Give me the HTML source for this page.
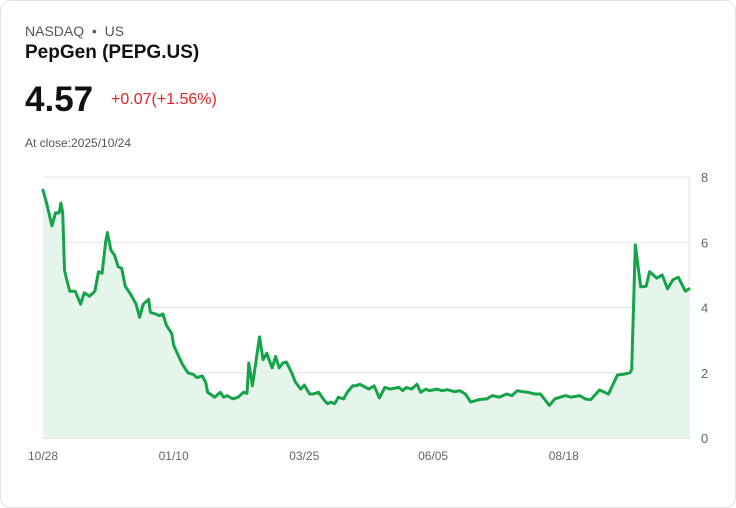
<!DOCTYPE html>
<html><head><meta charset="utf-8"><style>
body{margin:0;background:#fff;font-family:"Liberation Sans",sans-serif;}
.card{position:absolute;left:0;top:0;width:734px;height:506px;border:1px solid #e3e3e3;border-radius:10px;}
.t{position:absolute;white-space:nowrap}
</style></head><body>
<div class="card">
<div class="t" style="left:24px;top:22px;font-size:14px;color:#555">NASDAQ &nbsp;•&nbsp; US</div>
<div class="t" style="left:24px;top:41px;font-size:19px;font-weight:bold;color:#111">PepGen (PEPG.US)</div>
<div class="t" style="left:24px;top:79px;font-size:35px;font-weight:bold;color:#111">4.57</div>
<div class="t" style="left:110px;top:90px;font-size:16px;color:#e02424">+0.07(+1.56%)</div>
<div class="t" style="left:24px;top:135px;font-size:12px;color:#555">At close:2025/10/24</div>
<svg id="chart" width="736" height="508" style="position:absolute;left:-1px;top:-1px"></svg>
</div>
<script>
const days=[0,2,5,7,9,10,11,12,13,15,18,21,23,26,29,31,33,35,36,38,40,42,44,46,49,52,54,56,59,60,63,65,67,69,72,73,75,78,81,84,86,89,91,92,96,99,101,103,106,109,112,114,115,117,121,123,125,128,130,132,134,136,139,141,144,146,149,151,154,157,159,161,163,165,168,170,173,175,177,182,185,188,191,194,196,199,201,203,206,209,211,214,216,220,223,226,230,233,236,239,244,248,251,255,259,262,265,268,271,275,278,283,286,289,292,295,300,303,306,311,316,321,324,328,329,331,334,337,339,343,346,349,352,355,359,361];
const prices=[7.6,7.2,6.5,6.9,6.9,7.2,6.9,5.15,4.9,4.5,4.5,4.1,4.45,4.35,4.5,5.1,5.05,6.0,6.3,5.75,5.6,5.25,5.2,4.65,4.4,4.1,3.7,4.1,4.25,3.85,3.8,3.75,3.8,3.45,3.2,2.85,2.6,2.25,2.0,1.95,1.85,1.9,1.7,1.4,1.25,1.4,1.25,1.3,1.2,1.25,1.4,1.37,2.3,1.6,3.1,2.4,2.6,2.15,2.5,2.15,2.3,2.33,2.0,1.72,1.5,1.62,1.35,1.35,1.4,1.17,1.05,1.1,1.05,1.25,1.2,1.4,1.6,1.6,1.65,1.5,1.6,1.23,1.55,1.5,1.52,1.55,1.45,1.55,1.5,1.65,1.4,1.5,1.45,1.5,1.45,1.48,1.42,1.45,1.35,1.1,1.18,1.2,1.3,1.25,1.35,1.3,1.45,1.42,1.4,1.35,1.35,1.0,1.2,1.25,1.3,1.25,1.3,1.2,1.17,1.47,1.35,1.93,1.95,2.0,2.1,5.92,4.63,4.65,5.1,4.9,5.0,4.57,4.85,4.93,4.5,4.57];
const yTicks=[0,2,4,6,8];
const xLabels=["10/28","01/10","03/25","06/05","08/18"];
const xLabelDays=[0,73,146,218,291];
const X0=43,X1=689,Y0=438,Y1=177,DMAX=361,VMAX=8;
const sx=d=>X0+d/DMAX*(X1-X0), sy=v=>Y0-v/VMAX*(Y0-Y1);
const svg=document.getElementById('chart'),NS='http://www.w3.org/2000/svg';
function mk(t,a){const e=document.createElementNS(NS,t);for(const k in a)e.setAttribute(k,a[k]);svg.appendChild(e);return e;}
yTicks.forEach(v=>{
 const l=mk('line',{x1:X0,x2:X1+2,y1:sy(v),y2:sy(v),stroke:v==0?'#cfcfcf':'#e4e4e4','stroke-width':1});
 
 
 const t=mk('text',{x:701,y:sy(v)+5,'font-size':13,fill:'#666','font-family':'Liberation Sans, sans-serif'});
 t.textContent=v;
 
 
});
const ax=mk('line',{x1:X1,x2:X1,y1:Y1,y2:Y0,stroke:'#e4e4e4'});


xLabels.forEach((s,i)=>{
 const t=mk('text',{x:sx(xLabelDays[i]),y:460,'font-size':12,fill:'#666','text-anchor':'middle','font-family':'Liberation Sans, sans-serif'});
 t.textContent=s;
 
 
});
const pts=days.map((d,i)=>[sx(d),sy(prices[i])]);
const lineD='M'+pts.map(p=>p[0].toFixed(1)+','+p[1].toFixed(1)).join('L');
const area=mk('path',{d:lineD+'L'+sx(days[days.length-1])+','+Y0+'L'+sx(days[0])+','+Y0+'Z',fill:'#e6f5eb'});


const line=mk('path',{d:lineD,fill:'none',stroke:'#16a34a','stroke-width':3,'stroke-linejoin':'round','stroke-linecap':'round'});


</script>
</body></html>
